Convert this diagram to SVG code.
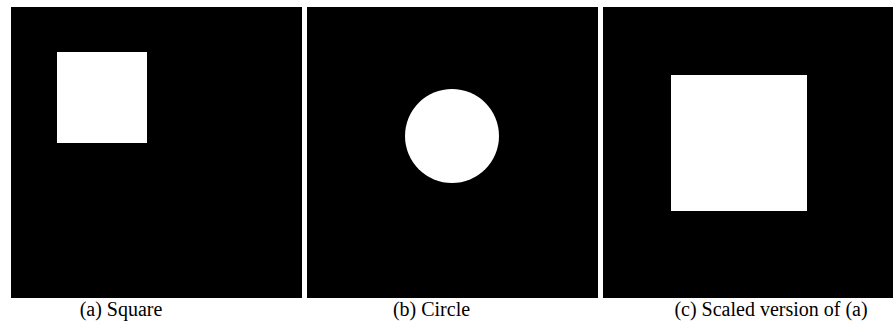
<svg xmlns="http://www.w3.org/2000/svg" width="893" height="323" viewBox="0 0 893 323">
<style>
.p{fill:#000}
.w{fill:#fff}
.t{font-family:Liberation Serif, Times New Roman, DejaVu Serif, serif;font-size:20px;fill:#000;text-anchor:middle}
</style>
<rect width="893" height="323" fill="#fff"/>
<g id="panel-a">
<rect class="p" x="11" y="7" width="291" height="291"/>
<rect class="w" x="57" y="52" width="90" height="91"/>
<text class="t" x="121" y="316">(a) Square</text>
</g>
<g id="panel-b">
<rect class="p" x="307" y="7" width="291" height="291"/>
<circle class="w" cx="452" cy="136" r="47"/>
<text class="t" x="431.5" y="316">(b) Circle</text>
</g>
<g id="panel-c">
<rect class="p" x="603" y="7" width="290" height="291"/>
<rect class="w" x="671" y="75" width="136" height="136"/>
<text class="t" x="771" y="316">(c) Scaled version of (a)</text>
</g>
</svg>
